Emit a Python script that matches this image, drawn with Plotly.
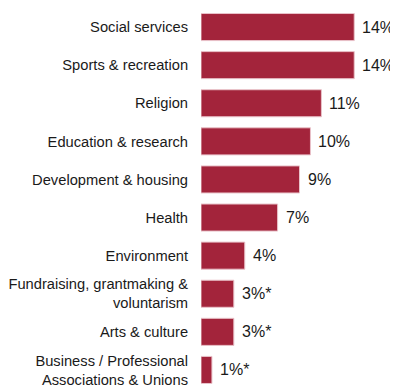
import plotly.graph_objects as go

# data
categories = [
    "Social services",
    "Sports & recreation",
    "Religion",
    "Education & research",
    "Development & housing",
    "Health",
    "Environment",
    "Fundraising, grantmaking &<br>voluntarism",
    "Arts & culture",
    "Business / Professional<br>Associations & Unions",
]
shares = [14, 14, 11, 10, 9, 7, 4, 3, 3, 1]
bar_labels = ["14%", "14%", "11%", "10%", "9%", "7%", "4%", "3%*", "3%*", "1%*"]


def main():
    fig = go.Figure(go.Bar(
        x=shares,
        y=categories,
        orientation="h",
        marker=dict(color="#A3243B", line=dict(color="#E9C3CA", width=1)),
        hoverinfo="skip",
    ))

    # value labels a little to the right of each bar end
    for cat, val, lab in zip(categories, shares, bar_labels):
        fig.add_annotation(x=val, y=cat, text=lab, showarrow=False,
                           xanchor="left", xshift=6,
                           font=dict(size=16, color="#1a1a1a"))

    # page body has an 8px margin, so the plot is placed to make up for it
    fig.update_layout(
        width=398, height=381,
        margin=dict(l=193, r=8, t=0, b=0),
        paper_bgcolor="white",
        plot_bgcolor="white",
        font=dict(family="Liberation Sans, Arial, sans-serif", size=14.7, color="#1a1a1a"),
        bargap=0.29,
        showlegend=False,
    )
    fig.update_xaxes(range=[0, 18], visible=False, automargin=False)
    fig.update_yaxes(
        autorange="reversed", automargin=False,
        showline=False, showgrid=False, zeroline=False,
        ticks="outside", ticklen=9, tickcolor="rgba(0,0,0,0)",
    )

    fig.write_html("out.html")


if __name__ == "__main__":
    main()
